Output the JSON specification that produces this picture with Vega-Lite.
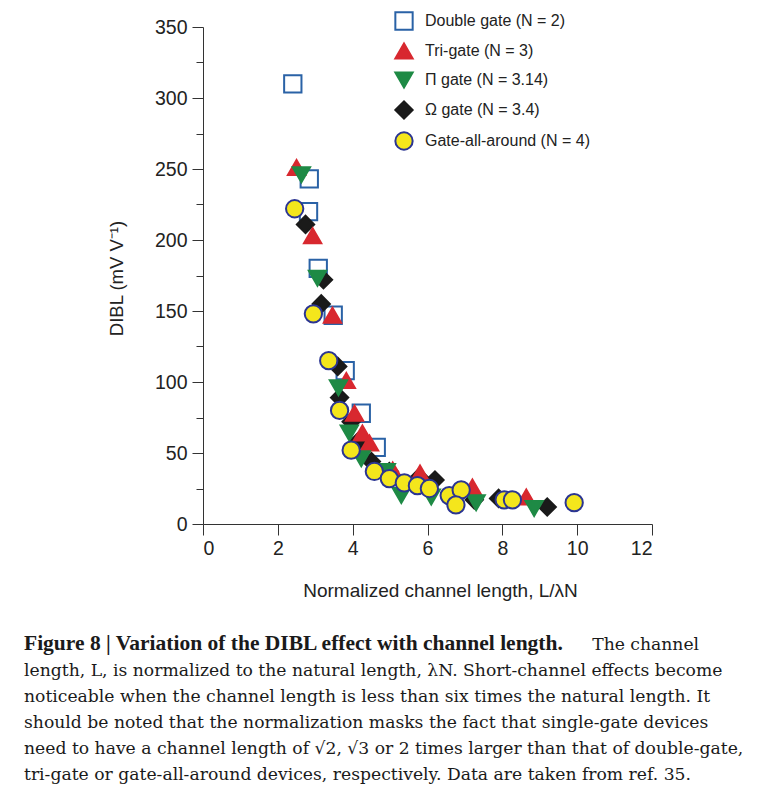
{
  "$schema": "https://vega.github.io/schema/vega-lite/v6.json",
  "width": 449,
  "height": 497,
  "autosize": {"type": "none"},
  "padding": {"left": 203, "top": 27, "right": 116, "bottom": 274},
  "background": "white",
  "config": {"view": {"stroke": null}, "font": "Liberation Sans"},
  "title": {
    "text": "Figure 8 | Variation of the DIBL effect with channel length.",
    "subtitle": [
      "\u200b\u00a0\u00a0\u00a0\u00a0\u00a0\u00a0\u00a0\u00a0\u00a0\u00a0\u00a0\u00a0\u00a0\u00a0\u00a0\u00a0\u00a0\u00a0\u00a0\u00a0\u00a0\u00a0\u00a0\u00a0\u00a0\u00a0\u00a0\u00a0\u00a0\u00a0\u00a0\u00a0\u00a0\u00a0\u00a0\u00a0\u00a0\u00a0\u00a0\u00a0\u00a0\u00a0\u00a0\u00a0\u00a0\u00a0\u00a0\u00a0\u00a0\u00a0\u00a0\u00a0\u00a0\u00a0\u00a0\u00a0\u00a0\u00a0\u00a0\u00a0\u00a0\u00a0\u00a0\u00a0\u00a0\u00a0\u00a0\u00a0\u00a0\u00a0\u00a0\u00a0\u00a0\u00a0\u00a0\u00a0\u00a0\u00a0\u00a0\u00a0\u00a0\u00a0\u00a0\u00a0\u00a0\u00a0\u00a0\u00a0\u00a0\u00a0\u00a0\u00a0\u00a0\u00a0\u00a0\u00a0\u00a0\u00a0\u00a0\u00a0\u00a0\u00a0\u00a0\u00a0The channel",
      "length, L, is normalized to the natural length, \u03bbN. Short-channel effects become",
      "noticeable when the channel length is less than six times the natural length. It",
      "should be noted that the normalization masks the fact that single-gate devices",
      "need to have a channel length of \u221a2, \u221a3 or 2 times larger than that of double-gate,",
      "tri-gate or gate-all-around devices, respectively. Data are taken from ref. 35."
    ],
    "orient": "bottom",
    "anchor": "start",
    "frame": "group",
    "font": "Liberation Serif",
    "fontSize": 21.5,
    "fontWeight": "bold",
    "color": "#1a1a1a",
    "subtitleFont": "DejaVu Serif",
    "subtitleFontSize": 17.2,
    "subtitleFontWeight": "normal",
    "subtitleColor": "#1a1a1a",
    "subtitleLineHeight": 26,
    "subtitlePadding": -18,
    "offset": 32,
    "dx": -179
  },
  "data": {
    "values": [
      {"series": "Double gate (N = 2)", "L": 2.40, "DIBL": 310},
      {"series": "Double gate (N = 2)", "L": 2.84, "DIBL": 243},
      {"series": "Double gate (N = 2)", "L": 2.82, "DIBL": 220},
      {"series": "Double gate (N = 2)", "L": 3.08, "DIBL": 180},
      {"series": "Double gate (N = 2)", "L": 3.48, "DIBL": 147},
      {"series": "Double gate (N = 2)", "L": 3.80, "DIBL": 108},
      {"series": "Double gate (N = 2)", "L": 4.23, "DIBL": 78},
      {"series": "Double gate (N = 2)", "L": 4.63, "DIBL": 54},
      {"series": "\u03a9 gate (N = 3.4)", "L": 2.74, "DIBL": 211},
      {"series": "\u03a9 gate (N = 3.4)", "L": 3.22, "DIBL": 172},
      {"series": "\u03a9 gate (N = 3.4)", "L": 3.16, "DIBL": 155},
      {"series": "\u03a9 gate (N = 3.4)", "L": 3.60, "DIBL": 111},
      {"series": "\u03a9 gate (N = 3.4)", "L": 3.65, "DIBL": 89},
      {"series": "\u03a9 gate (N = 3.4)", "L": 3.96, "DIBL": 72},
      {"series": "\u03a9 gate (N = 3.4)", "L": 4.18, "DIBL": 59},
      {"series": "\u03a9 gate (N = 3.4)", "L": 4.50, "DIBL": 44},
      {"series": "\u03a9 gate (N = 3.4)", "L": 4.98, "DIBL": 37},
      {"series": "\u03a9 gate (N = 3.4)", "L": 5.78, "DIBL": 33},
      {"series": "\u03a9 gate (N = 3.4)", "L": 6.20, "DIBL": 31},
      {"series": "\u03a9 gate (N = 3.4)", "L": 7.25, "DIBL": 17},
      {"series": "\u03a9 gate (N = 3.4)", "L": 7.90, "DIBL": 18},
      {"series": "\u03a9 gate (N = 3.4)", "L": 9.20, "DIBL": 12},
      {"series": "Tri-gate (N = 3)", "L": 2.50, "DIBL": 251},
      {"series": "Tri-gate (N = 3)", "L": 2.93, "DIBL": 203},
      {"series": "Tri-gate (N = 3)", "L": 3.46, "DIBL": 147},
      {"series": "Tri-gate (N = 3)", "L": 3.83, "DIBL": 101},
      {"series": "Tri-gate (N = 3)", "L": 4.05, "DIBL": 78},
      {"series": "Tri-gate (N = 3)", "L": 4.26, "DIBL": 64},
      {"series": "Tri-gate (N = 3)", "L": 4.45, "DIBL": 57},
      {"series": "Tri-gate (N = 3)", "L": 5.07, "DIBL": 38},
      {"series": "Tri-gate (N = 3)", "L": 5.80, "DIBL": 36},
      {"series": "Tri-gate (N = 3)", "L": 7.20, "DIBL": 26},
      {"series": "Tri-gate (N = 3)", "L": 8.64, "DIBL": 19},
      {"series": "\u03a0 gate (N = 3.14)", "L": 2.63, "DIBL": 246},
      {"series": "\u03a0 gate (N = 3.14)", "L": 3.06, "DIBL": 173},
      {"series": "\u03a0 gate (N = 3.14)", "L": 3.62, "DIBL": 96},
      {"series": "\u03a0 gate (N = 3.14)", "L": 3.91, "DIBL": 64},
      {"series": "\u03a0 gate (N = 3.14)", "L": 4.23, "DIBL": 46},
      {"series": "\u03a0 gate (N = 3.14)", "L": 4.90, "DIBL": 37},
      {"series": "\u03a0 gate (N = 3.14)", "L": 5.30, "DIBL": 20},
      {"series": "\u03a0 gate (N = 3.14)", "L": 6.10, "DIBL": 19},
      {"series": "\u03a0 gate (N = 3.14)", "L": 7.30, "DIBL": 15},
      {"series": "\u03a0 gate (N = 3.14)", "L": 8.85, "DIBL": 11},
      {"series": "Gate-all-around (N = 4)", "L": 2.45, "DIBL": 222},
      {"series": "Gate-all-around (N = 4)", "L": 2.95, "DIBL": 148},
      {"series": "Gate-all-around (N = 4)", "L": 3.36, "DIBL": 115},
      {"series": "Gate-all-around (N = 4)", "L": 3.65, "DIBL": 80},
      {"series": "Gate-all-around (N = 4)", "L": 3.96, "DIBL": 52},
      {"series": "Gate-all-around (N = 4)", "L": 4.58, "DIBL": 37},
      {"series": "Gate-all-around (N = 4)", "L": 4.98, "DIBL": 32},
      {"series": "Gate-all-around (N = 4)", "L": 5.38, "DIBL": 29},
      {"series": "Gate-all-around (N = 4)", "L": 5.73, "DIBL": 27},
      {"series": "Gate-all-around (N = 4)", "L": 6.05, "DIBL": 25},
      {"series": "Gate-all-around (N = 4)", "L": 6.58, "DIBL": 20},
      {"series": "Gate-all-around (N = 4)", "L": 6.90, "DIBL": 24},
      {"series": "Gate-all-around (N = 4)", "L": 6.76, "DIBL": 13.5},
      {"series": "Gate-all-around (N = 4)", "L": 8.05, "DIBL": 17},
      {"series": "Gate-all-around (N = 4)", "L": 8.27, "DIBL": 17},
      {"series": "Gate-all-around (N = 4)", "L": 9.92, "DIBL": 15}
    ]
  },
  "mark": {"type": "point", "opacity": 1, "size": 300, "strokeWidth": 2},
  "encoding": {
    "x": {
      "field": "L",
      "type": "quantitative",
      "scale": {"domain": [0, 12], "nice": false},
      "axis": {
        "values": [0, 2, 4, 6, 8, 10, 12],
        "title": "Normalized channel length, L/\u03bbN",
        "titleFontSize": 19,
        "titleFontWeight": "normal",
        "titleColor": "#222",
        "titlePadding": 24,
        "titleX": 237,
        "labelFontSize": 19.5,
        "labelColor": "#222",
        "labelPadding": 4,
        "tickSize": 11,
        "tickColor": "#333",
        "domainColor": "#333",
        "grid": false
      }
    },
    "y": {
      "field": "DIBL",
      "type": "quantitative",
      "scale": {"domain": [0, 350], "nice": false},
      "axis": {
        "values": [0, 25, 50, 75, 100, 125, 150, 175, 200, 225, 250, 275, 300, 325, 350],
        "labelExpr": "datum.value % 50 === 0 ? datum.label : ''",
        "tickSize": {"condition": {"test": "datum.value % 50 === 0", "value": 11}, "value": 7},
        "title": "DIBL (mV V\u207b\u00b9)",
        "titleFontSize": 18.5,
        "titleFontWeight": "normal",
        "titleColor": "#222",
        "titlePadding": 28,
        "titleY": 251,
        "labelFontSize": 19.5,
        "labelColor": "#222",
        "labelPadding": 5,
        "tickColor": "#333",
        "domainColor": "#333",
        "grid": false
      }
    },
    "shape": {
      "field": "series",
      "type": "nominal",
      "scale": {
        "domain": ["Double gate (N = 2)", "Tri-gate (N = 3)", "\u03a0 gate (N = 3.14)", "\u03a9 gate (N = 3.4)", "Gate-all-around (N = 4)"],
        "range": ["square", "triangle-up", "triangle-down", "diamond", "circle"]
      },
      "legend": {
        "title": null,
        "orient": "none",
        "legendX": 191,
        "legendY": -16,
        "padding": 0,
        "labelFontSize": 16,
        "labelColor": "#222",
        "labelOffset": 11,
        "labelLimit": 0,
        "rowPadding": 5,
        "symbolSize": 300,
        "symbolStrokeWidth": 2
      }
    },
    "fill": {
      "field": "series",
      "type": "nominal",
      "scale": {
        "domain": ["Double gate (N = 2)", "Tri-gate (N = 3)", "\u03a0 gate (N = 3.14)", "\u03a9 gate (N = 3.4)", "Gate-all-around (N = 4)"],
        "range": ["#ffffff", "#d8282f", "#1e8a45", "#1a1a1a", "#f4e61c"]
      }
    },
    "stroke": {
      "field": "series",
      "type": "nominal",
      "scale": {
        "domain": ["Double gate (N = 2)", "Tri-gate (N = 3)", "\u03a0 gate (N = 3.14)", "\u03a9 gate (N = 3.4)", "Gate-all-around (N = 4)"],
        "range": ["#2a62a6", "#d8282f", "#1e8a45", "#1a1a1a", "#2b3592"]
      }
    }
  }
}
